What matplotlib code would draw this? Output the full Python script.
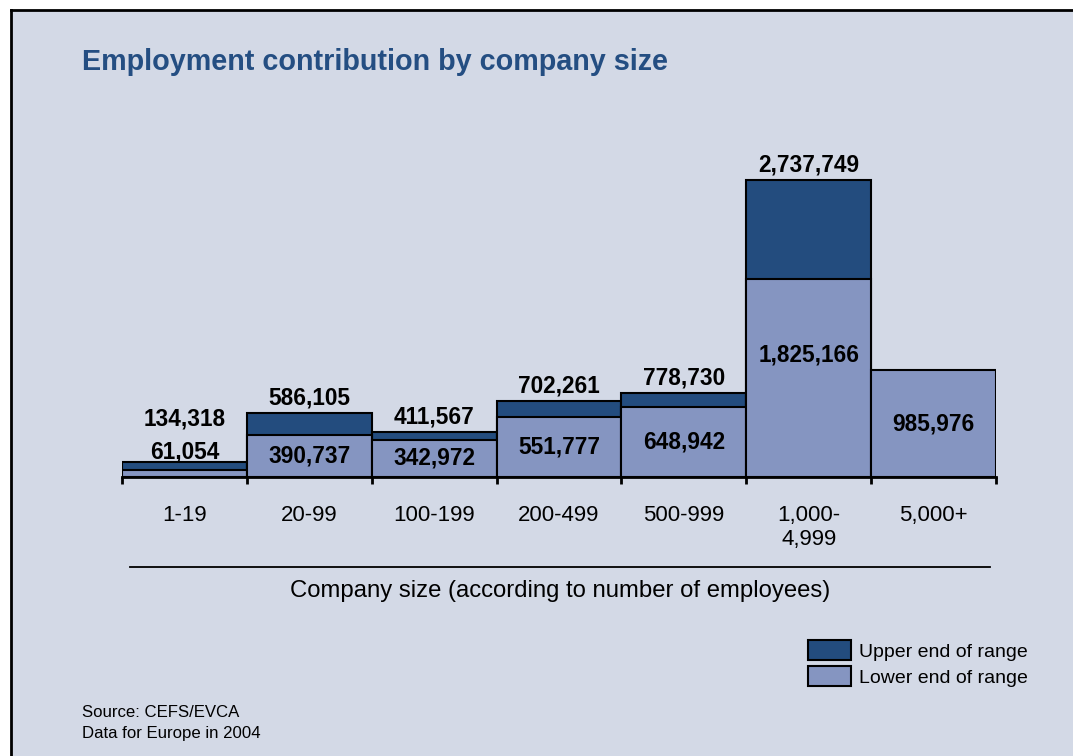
import matplotlib
matplotlib.use("Agg")
import matplotlib.pyplot as plt
from matplotlib.patches import Rectangle, Patch
from matplotlib.lines import Line2D

plt.rcParams['font.family'] = ['Liberation Sans', 'DejaVu Sans']

# データ
sizes = ["1-19", "20-99", "100-199", "200-499", "500-999", "1,000-\n4,999", "5,000+"]
upper = [134318, 586105, 411567, 702261, 778730, 2737749, None]
lower = [61054, 390737, 342972, 551777, 648942, 1825166, 985976]

dark = "#234C7E"
light = "#8595C1"
bg = "#D3D9E6"

W, H = 1073, 756
fig = plt.figure(figsize=(W / 100, H / 100), dpi=100)
fig.patch.set_facecolor("white")

# 背景の枠（上と左だけ線）
fig.add_artist(Rectangle((11 / W, 0), 1 - 11 / W, 1 - 10 / H, transform=fig.transFigure,
                         facecolor=bg, edgecolor="none", zorder=-10))
fig.add_artist(Line2D([11 / W, 11 / W], [0, 1 - 10 / H], color="black", lw=2, transform=fig.transFigure))
fig.add_artist(Line2D([11 / W, 1], [1 - 10 / H, 1 - 10 / H], color="black", lw=2, transform=fig.transFigure))

fig.text(82 / W, 1 - 62 / H, "Employment contribution by company size", fontsize=20.7,
         fontweight="bold", color="#244E82", va="center", ha="left")

# グラフ本体
base_y = 477
top_y = 151.5
ax = fig.add_axes([122 / W, 1 - base_y / H, 874 / W, (base_y - top_y) / H])
ax.set_facecolor("none")
ax.set_xlim(-0.5, 6.5)
ax.set_ylim(0, 3.0e6)

xs = range(len(sizes))
for i in xs:
    if upper[i] is not None:
        ax.bar(i, upper[i], width=1.0, color=dark, edgecolor="black", linewidth=1.5, zorder=2)
    ax.bar(i, lower[i], width=1.0, color=light, edgecolor="black", linewidth=1.5, zorder=3)

lab = dict(fontsize=16.3, fontweight="bold", ha="center", color="black", zorder=5)
for i in xs:
    if upper[i] is None:
        ax.text(i, lower[i] / 2, f"{lower[i]:,}", va="center", **lab)
        continue
    if i == 0:
        # 棒が低いので両方とも上に置く
        ax.annotate(f"{lower[i]:,}", (i, upper[i]), xytext=(0, -1), textcoords="offset points",
                    va="bottom", **lab)
        ax.annotate(f"{upper[i]:,}", (i, upper[i]), xytext=(0, 23), textcoords="offset points",
                    va="bottom", **lab)
        continue
    ax.annotate(f"{upper[i]:,}", (i, upper[i]), xytext=(0, 2.5), textcoords="offset points",
                va="bottom", **lab)
    y = lower[i] - 0.7e6 if i == 5 else lower[i] / 2
    ax.text(i, y, f"{lower[i]:,}", va="center", **lab)

for s in ["top", "right", "left"]:
    ax.spines[s].set_visible(False)
ax.spines["bottom"].set_linewidth(2)
ax.spines["bottom"].set_zorder(6)
ax.set_yticks([])
ax.set_xticks(list(xs))
ax.set_xticklabels(sizes, fontsize=16, linespacing=1.2)
ax.tick_params(axis="x", which="major", length=0, pad=20)
ax.set_xticks([i - 0.5 for i in range(len(sizes) + 1)], minor=True)
ax.tick_params(axis="x", which="minor", length=5, width=2, direction="out")

# 軸ラベルと区切り線
fig.add_artist(Line2D([130 / W, 990 / W], [1 - 567 / H, 1 - 567 / H], color="black", lw=1.3,
                      transform=fig.transFigure))
fig.text(560 / W, 1 - 591 / H, "Company size (according to number of employees)", fontsize=17.2,
         ha="center", va="center")

handles = [Patch(facecolor=dark, edgecolor="black", linewidth=1.5, label="Upper end of range"),
           Patch(facecolor=light, edgecolor="black", linewidth=1.5, label="Lower end of range")]
fig.legend(handles=handles, loc="upper left", bbox_to_anchor=(808 / W, 1 - 640 / H), frameon=False,
           fontsize=14, handlelength=2.2, handleheight=1.2, handletextpad=0.4, labelspacing=0.3,
           borderaxespad=0, borderpad=0)

fig.text(82 / W, 1 - 723 / H, "Source: CEFS/EVCA\nData for Europe in 2004", fontsize=12.1,
         ha="left", va="center", linespacing=1.45)

plt.savefig("out.png", dpi=100, facecolor=fig.get_facecolor())
